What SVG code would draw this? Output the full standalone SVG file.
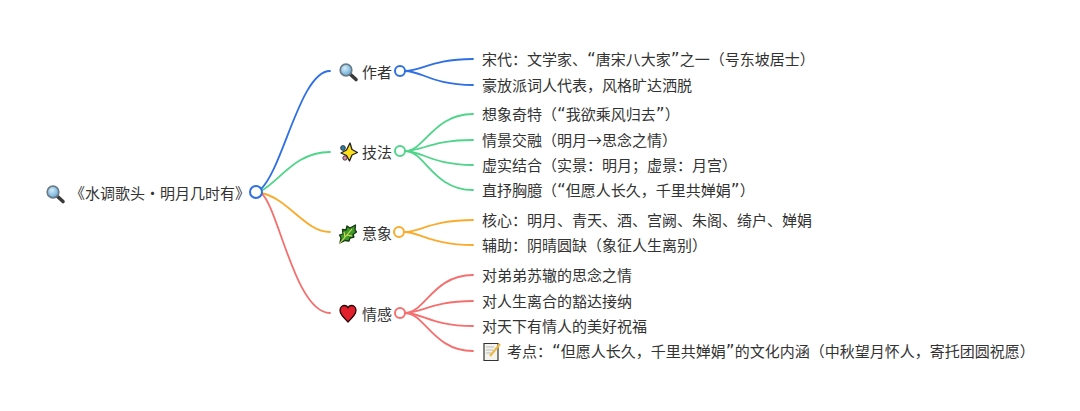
<svg xmlns="http://www.w3.org/2000/svg" width="1080" height="411" viewBox="0 0 1080 411">
<style>
text{font-family:"Liberation Sans","Noto Sans CJK SC",sans-serif;font-size:15px;fill:#333}
.cjk{font-family:"Noto Sans CJK SC",sans-serif}
.q{font-family:"DejaVu Sans",sans-serif;font-size:17px}
.l{fill:none;stroke-width:1.800;stroke-linecap:round}
.dot{fill:#fff;stroke-width:2}
.b{stroke:#2f6fe4}.g{stroke:#4fd58a}.o{stroke:#fbab2c}.r{stroke:#f4706f}
</style>
<defs>
<radialGradient id="lens" cx="0.4" cy="0.35" r="0.7"><stop offset="0" stop-color="#d3ecfa"/><stop offset="1" stop-color="#5fa6d6"/></radialGradient>
<symbol id="mag" overflow="visible">
<line x1="4" y1="4" x2="10" y2="9.500" stroke="#3a3a3a" stroke-width="3.600" stroke-linecap="round"/>
<circle cx="0" cy="0" r="5.800" fill="url(#lens)" stroke="#6a7a86" stroke-width="1.700"/>
</symbol>
</defs>
<rect width="1080" height="411" fill="#fff"/>
<g id="connectors">
<path class="l b" d="M260 190C283 170 300 71 330 71"/>
<path class="l g" d="M261 191C280 181 295 152 330 152"/>
<path class="l o" d="M261 193C288 198 305 232 330 232"/>
<path class="l r" d="M261 193C278 205 295 313 330 313"/>
<path class="l b" d="M405 71C422 71 432 59 473 59"/>
<path class="l b" d="M405 71C422 71 432 85 473 85"/>
<path class="l g" d="M405 151C425 151 433 114 473 114"/>
<path class="l g" d="M405 151C422 151 432 140 473 140"/>
<path class="l g" d="M405 151C422 151 432 165 473 165"/>
<path class="l g" d="M405 151C425 151 433 190 473 190"/>
<path class="l o" d="M404 232C420 232 432 220 473 220"/>
<path class="l o" d="M404 232C420 232 432 245 473 245"/>
<path class="l r" d="M405 313C425 313 433 275 473 275"/>
<path class="l r" d="M405 313C422 313 432 301 473 301"/>
<path class="l r" d="M405 313C422 313 432 326 473 326"/>
<path class="l r" d="M405 313C425 313 433 351 473 351"/>
</g>
<g id="root">
<use href="#mag" x="53" y="192"/>
<text x="70" y="199">《水调歌头・明月几时有》</text>
<circle class="dot b" cx="256" cy="192" r="6"/>
</g>
<g id="author">
<use href="#mag" x="346" y="70"/>
<text x="362" y="78">作者</text>
<circle class="dot b" cx="400" cy="71" r="5"/>
</g>
<g id="technique">
<path d="M350 143L352 149.500L357.500 152.500L352 155L349.500 161L346.500 155.500L341 153L346.500 150Z" fill="#fde01a" stroke="#222" stroke-width="1.300" stroke-linejoin="round"/>
<circle cx="343" cy="148" r="2.400" fill="#2c7fa8" stroke="#222" stroke-width=".8"/>
<circle cx="345" cy="158" r="2.200" fill="#e58ab0" stroke="#222" stroke-width=".8"/>
<text x="362" y="158">技法</text>
<circle class="dot g" cx="400" cy="151" r="5"/>
</g>
<g id="imagery">
<path d="M340 243L341 238L339.500 235L343 234L342.500 229.500L346 230L347 226L350 228L355.500 225L355 230L356.500 232L353 234.500L354 237L350 238L349 241L345 240.500Z" fill="#3f9a2c" stroke="#14380f" stroke-width="1.300" stroke-linejoin="round"/>
<path d="M340 243L352 229M345 237L344 232M347 235L352 236" stroke="#d8e05a" stroke-width="1.100" fill="none"/>
<text x="362" y="239">意象</text>
<circle class="dot o" cx="399" cy="232" r="5"/>
</g>
<g id="emotion">
<path d="M348 322C343 317 340 314 340 310.500C340 307 342.500 305.500 344.500 305.500C346 305.500 347.500 306.500 348 308C348.500 306.500 350 305.500 351.500 305.500C353.500 305.500 356 307 356 310.500C356 314 353 317 348 322Z" fill="#e2202c" stroke="#2a0a0a" stroke-width="1.300" stroke-linejoin="round"/>
<text x="362" y="320">情感</text>
<circle class="dot r" cx="400" cy="313" r="5"/>
</g>
<g id="a1"><text x="482" y="65">宋代：文学家、<tspan class="q">“</tspan>唐宋八大家<tspan class="q">”</tspan>之一（号东坡居士）</text></g>
<g id="a2"><text x="482" y="91">豪放派词人代表，风格旷达洒脱</text></g>
<g id="t1"><text x="482" y="120">想象奇特（<tspan class="q">“</tspan>我欲乘风归去<tspan class="q">”</tspan>）</text></g>
<g id="t2"><text x="482" y="146">情景交融（明月<tspan class="cjk">→</tspan>思念之情）</text></g>
<g id="t3"><text x="482" y="171">虚实结合（实景：明月；虚景：月宫）</text></g>
<g id="t4"><text x="482" y="196">直抒胸臆（<tspan class="q">“</tspan>但愿人长久，千里共婵娟<tspan class="q">”</tspan>）</text></g>
<g id="i1"><text x="482" y="226">核心：明月、青天、酒、宫阙、朱阁、绮户、婵娟</text></g>
<g id="i2"><text x="482" y="251">辅助：阴晴圆缺（象征人生离别）</text></g>
<g id="e1"><text x="482" y="281">对弟弟苏辙的思念之情</text></g>
<g id="e2"><text x="482" y="307">对人生离合的豁达接纳</text></g>
<g id="e3"><text x="482" y="332">对天下有情人的美好祝福</text></g>
<g id="e4">
<path d="M484 343.500H498V360.500H484Z" fill="#f4f4ee" stroke="#333" stroke-width="1.200"/>
<path d="M486 347H494M486 350H493M486 353H491" stroke="#aaa" stroke-width=".8"/>
<path d="M490 356L500 344" stroke="#e9b949" stroke-width="2.200"/>
<text x="507" y="357">考点：<tspan class="q">“</tspan>但愿人长久，千里共婵娟<tspan class="q">”</tspan>的文化内涵（中秋望月怀人，寄托团圆祝愿）</text>
</g>
</svg>
